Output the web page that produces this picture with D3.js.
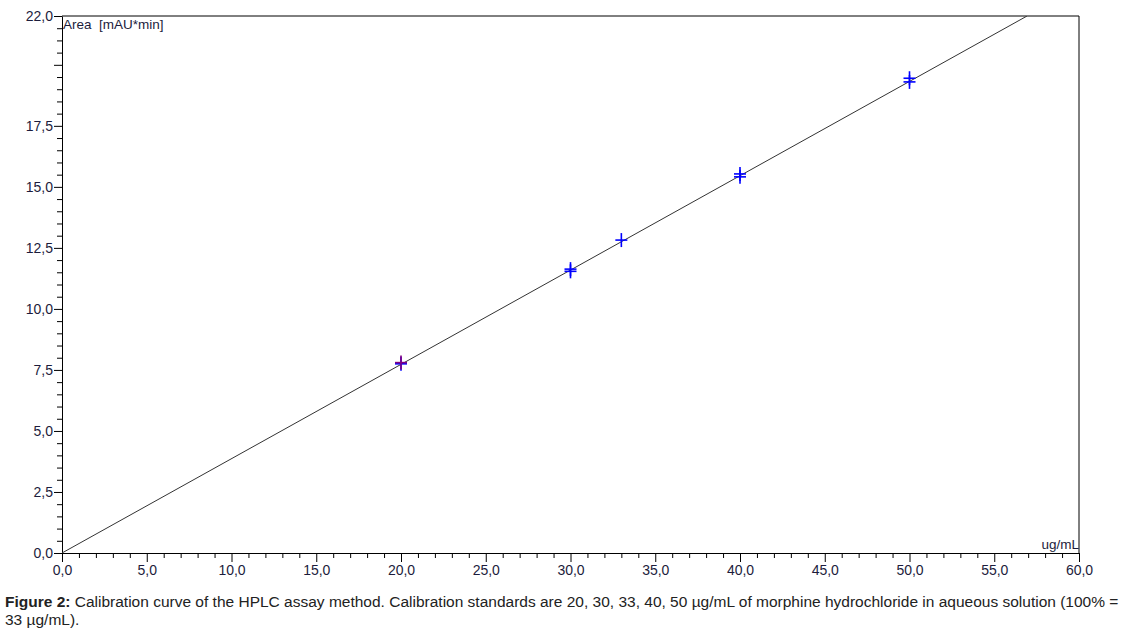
<!DOCTYPE html>
<html>
<head>
<meta charset="utf-8">
<script src="https://cdn.jsdelivr.net/npm/d3@7"></script>
<style>
  body { margin: 0; background: #fff; }
  svg text { font-family: "Liberation Sans", Arial, sans-serif; white-space: pre; }
  .tick text { fill: #1c1c3c; font-size: 14px; }
  .domain, .tick line { stroke: #000; }
</style>
</head>
<body>
<svg width="1129" height="632"></svg>
<script>
// calibration standards (ug/mL) and measured areas (mAU*min)
const concBlue = [20, 30, 30, 33, 40, 40, 50, 50];
const areaBlue = [7.75, 11.54, 11.63, 12.82, 15.41, 15.53, 19.30, 19.45];
const concPurple = [20];
const areaPurple = [7.80];
const slope = 0.3864; // regression through origin
const xMajor = [0, 5, 10, 15, 20, 25, 30, 35, 40, 45, 50, 55, 60];
const yMajor = [0, 2.5, 5, 7.5, 10, 12.5, 15, 17.5, 20, 22];
const yLabelled = [0, 2.5, 5, 7.5, 10, 12.5, 15, 17.5, 22];

const svg = d3.select('svg');
const mLeft = 62, mRight = 1079, mTop = 16, mBottom = 553;

const x = d3.scaleLinear().domain([0, 60]).range([mLeft, mRight]);
const y = d3.scaleLinear().domain([0, 22]).range([mBottom, mTop]);
const fmt = d => d3.format('.1f')(d).replace('.', ',');

// frame
svg.append('path')
  .attr('d', `M${mLeft},${mTop}H${mRight}V${mBottom}`)
  .attr('fill', 'none')
  .attr('stroke', '#000');

// minor ticks
const xMinor = d3.range(0, 61, 1).filter(v => v % 5 !== 0);
const yMinor = d3.range(0, 22, 0.5).filter(v => !yMajor.includes(v));

svg.append('g')
  .attr('transform', `translate(0,${mBottom})`)
  .call(d3.axisBottom(x).tickValues(xMinor).tickSize(5).tickFormat(''))
  .call(g => g.select('.domain').remove());
svg.append('g')
  .attr('transform', `translate(${mLeft},0)`)
  .call(d3.axisLeft(y).tickValues(yMinor).tickSize(5).tickFormat(''))
  .call(g => g.select('.domain').remove());

// major ticks
svg.append('g')
  .attr('transform', `translate(0,${mBottom})`)
  .call(d3.axisBottom(x).tickValues(xMajor).tickSize(9).tickSizeOuter(0).tickPadding(3).tickFormat(fmt));
svg.append('g')
  .attr('transform', `translate(${mLeft},0)`)
  .call(d3.axisLeft(y).tickValues(yMajor).tickSize(8).tickSizeOuter(0).tickPadding(1)
    .tickFormat(d => yLabelled.includes(d) ? fmt(d) : ''));

// axis titles
svg.append('text')
  .attr('x', mLeft + 1).attr('y', mTop + 13)
  .attr('font-size', 13.5).attr('fill', '#1c1c3c')
  .text('Area  [mAU*min]');
svg.append('text')
  .attr('x', mRight).attr('y', mBottom - 4)
  .attr('text-anchor', 'end')
  .attr('font-size', 13.5).attr('fill', '#1c1c3c')
  .text('ug/mL');

// regression line, clipped to the plot
svg.append('clipPath').attr('id', 'plot')
  .append('rect').attr('x', mLeft).attr('y', mTop).attr('width', mRight - mLeft).attr('height', mBottom - mTop);

const xEnd = 22 / slope;
svg.append('line')
  .attr('clip-path', 'url(#plot)')
  .attr('x1', x(0)).attr('y1', y(0))
  .attr('x2', x(xEnd)).attr('y2', y(22))
  .attr('stroke', '#333').attr('stroke-width', 1);

function crosses(cs, as, color) {
  const g = svg.append('g').attr('stroke', color).attr('stroke-width', 1.6);
  cs.forEach((c, i) => {
    const cx = x(c), cy = y(as[i]);
    g.append('line').attr('x1', cx - 6).attr('x2', cx + 6).attr('y1', cy).attr('y2', cy);
    g.append('line').attr('x1', cx).attr('x2', cx).attr('y1', cy - 7).attr('y2', cy + 7);
  });
}
crosses(concBlue, areaBlue, '#0000ff');
crosses(concPurple, areaPurple, '#800080');

// caption
const cap = svg.append('g').attr('font-size', 15.5).attr('fill', '#222');
const t1 = cap.append('text').attr('x', 5).attr('y', 607);
t1.append('tspan').attr('font-weight', 'bold').text('Figure 2:');
t1.append('tspan').text(' Calibration curve of the HPLC assay method. Calibration standards are 20, 30, 33, 40, 50 µg/mL of morphine hydrochloride in aqueous solution (100% =');
cap.append('text').attr('x', 5).attr('y', 625).text('33 µg/mL).');
</script>
</body>
</html>
